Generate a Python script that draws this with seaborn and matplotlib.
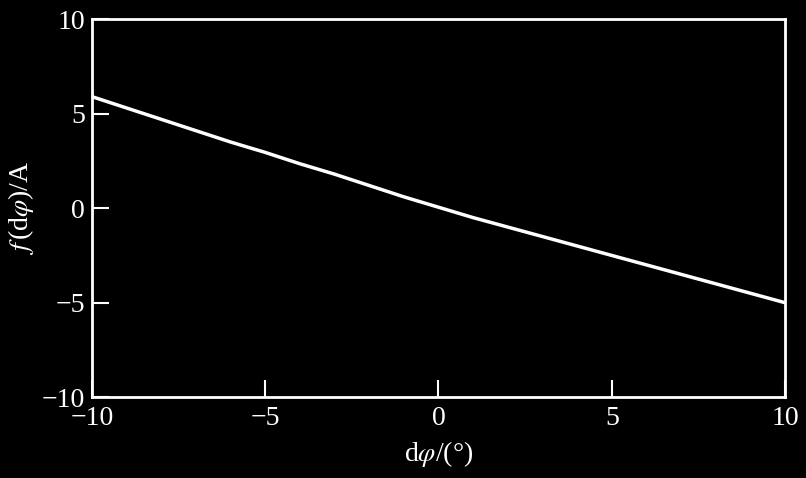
import matplotlib
matplotlib.use("Agg")
import matplotlib.pyplot as plt
import seaborn as sns

# phase offset (deg) vs. response f(dphi) (A)
dphi = [-10, -9, -8, -7, -6, -5, -4, -3, -2, -1, 0, 1, 2, 3, 4, 5, 6, 7, 8, 9, 10]
f_val = [5.9, 5.3, 4.7, 4.1, 3.5, 2.95, 2.35, 1.8, 1.2, 0.6, 0.05,
         -0.5, -1.0, -1.5, -2.0, -2.5, -3.0, -3.5, -4.0, -4.5, -5.0]
ticks = [-10, -5, 0, 5, 10]

sns.set_style("dark", {"axes.facecolor": "black", "figure.facecolor": "black"})
plt.rcParams['font.family'] = ['Liberation Serif', 'DejaVu Serif']
plt.rcParams['mathtext.fontset'] = 'stix'

fig = plt.figure(figsize=(8.06, 4.78), dpi=100, facecolor="black")
ax = fig.add_axes([0.114, 0.169, 0.86, 0.791])
sns.lineplot(x=dphi, y=f_val, color="white", linewidth=2.5, ax=ax)

ax.set_xlim(-10, 10)
ax.set_ylim(-10, 10)
ax.set_xticks(ticks)
ax.set_yticks(ticks)
ax.set_xticklabels(["\u221210", "\u22125", "0", "5", "10"])
ax.set_yticklabels(["\u221210", "\u22125", "0", "5", "10"])
ax.tick_params(direction="in", length=12, width=1.5, colors="white",
               labelsize=20, pad=6, bottom=True, left=True, top=False, right=False)
ax.tick_params(axis="y", pad=5)
for s in ax.spines.values():
    s.set_color("white")
    s.set_linewidth(2)
ax.grid(False)
ax.set_xlabel(r"d$\varphi$/(°)", color="white", fontsize=20, labelpad=6)
ax.set_ylabel(r"$f\,$(d$\varphi$)/A", color="white", fontsize=20, labelpad=4)

fig.savefig("out.png", dpi=100, facecolor="black")
